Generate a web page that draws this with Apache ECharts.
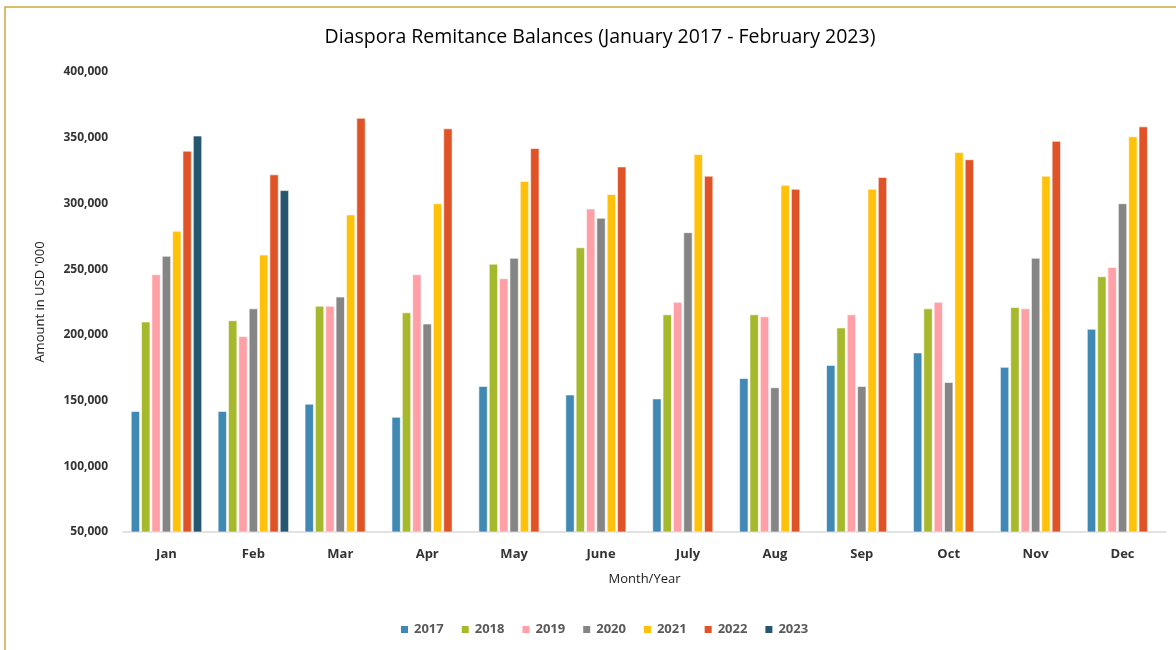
<!DOCTYPE html>
<html>
<head>
<meta charset="utf-8">
<title>Diaspora Remitance Balances</title>
<script src="https://cdn.jsdelivr.net/npm/echarts@6/dist/echarts.min.js"></script>
<style>
    html, body { margin: 0; padding: 0; background: #fff; }
    #chart { width: 1176px; height: 650px; }
</style>
</head>
<body>
<div id="chart"></div>
<script>
// 月份
var months = ['Jan', 'Feb', 'Mar', 'Apr', 'May', 'June', 'July', 'Aug', 'Sep', 'Oct', 'Nov', 'Dec'];

// 年份 (图例)
var years = ['2017', '2018', '2019', '2020', '2021', '2022', '2023'];

// 各年份数值 (USD '000)
var v2017 = [142000, 142000, 147500, 137500, 161000, 154500, 151500, 167000, 177000, 186500, 175500, 204500];
var v2018 = [210000, 211000, 222000, 217000, 254000, 266500, 215500, 215500, 205500, 220000, 221000, 244500];
var v2019 = [246000, 199000, 222000, 246000, 243000, 296000, 225000, 214000, 215500, 225000, 220000, 251500];
var v2020 = [260000, 220000, 229000, 208500, 258500, 289000, 278000, 160000, 161000, 164000, 258500, 300000];
var v2021 = [279000, 261000, 291500, 300000, 317000, 307000, 337500, 314000, 311000, 339000, 321000, 351000];
var v2022 = [340000, 322000, 365000, 357000, 342000, 328000, 321000, 311000, 320000, 333500, 347500, 358500];
var v2023 = [351500, 310000, null, null, null, null, null, null, null, null, null, null];

var yTicks = [50000, 100000, 150000, 200000, 250000, 300000, 350000, 400000];

var colors = ['#4189b5', '#a6b82b', '#ff9fa6', '#858585', '#ffc10a', '#e05327', '#27566f'];

var chart = echarts.init(document.getElementById('chart'));

function makeSeries(name, values, idx) {
    return {
        name: name,
        type: 'bar',
        data: values,
        barWidth: 9,
        barGap: '15%',
        itemStyle: {
            color: colors[idx],
            borderColor: '#ffffff',
            borderWidth: 0.6
        }
    };
}

var allValues = [v2017, v2018, v2019, v2020, v2021, v2022, v2023];
var series = [];
for (var i = 0; i < years.length; i++) {
    series.push(makeSeries(years[i], allValues[i], i));
}

var option = {
    backgroundColor: '#ffffff',
    animation: false,
    title: {
        text: 'Diaspora Remitance Balances (January 2017 - February 2023)',
        left: 595,
        top: 22,
        textAlign: 'center',
        textStyle: {
            fontFamily: 'Open Sans',
            fontSize: 19.5,
            fontWeight: 'normal',
            color: '#000000'
        }
    },
    // 外框
    graphic: [{
        type: 'rect',
        shape: { x: 5, y: 7, width: 1200, height: 700 },
        style: { fill: 'none', stroke: '#cfa93a', lineWidth: 1.5 },
        silent: true
    }],
    legend: {
        data: years,
        bottom: 9,
        left: 394,
        itemWidth: 9,
        itemHeight: 9,
        itemGap: 16,
        icon: 'rect',
        textStyle: {
            fontFamily: 'Open Sans',
            fontSize: 13,
            fontWeight: 'bold',
            color: '#595959'
        }
    },
    grid: {
        left: 123,
        right: 10,
        top: 72,
        bottom: 118
    },
    xAxis: {
        type: 'category',
        data: months,
        name: 'Month/Year',
        nameLocation: 'middle',
        nameGap: 41,
        nameTextStyle: {
            fontFamily: 'Open Sans',
            fontSize: 13,
            color: '#1a1a1a'
        },
        axisLine: { lineStyle: { color: '#d9d9d9', width: 1.5 } },
        axisTick: { show: false },
        axisLabel: {
            margin: 16,
            fontFamily: 'Open Sans',
            fontSize: 13,
            fontWeight: 'bold',
            color: '#333333'
        }
    },
    yAxis: {
        type: 'value',
        min: yTicks[0],
        max: yTicks[yTicks.length - 1],
        interval: 50000,
        name: "Amount in USD '000",
        nameLocation: 'middle',
        nameGap: 76,
        nameTextStyle: {
            fontFamily: 'Open Sans',
            fontSize: 13,
            color: '#1a1a1a'
        },
        axisLine: { show: false },
        axisTick: { show: false },
        splitLine: { show: false },
        axisLabel: {
            margin: 15,
            fontFamily: 'Open Sans',
            fontSize: 12,
            fontWeight: 'bold',
            color: '#333333',
            formatter: function (val) {
                return String(val).replace(/\B(?=(\d{3})+(?!\d))/g, ',');
            }
        }
    },
    series: series
};

chart.setOption(option);
</script>
</body>
</html>
